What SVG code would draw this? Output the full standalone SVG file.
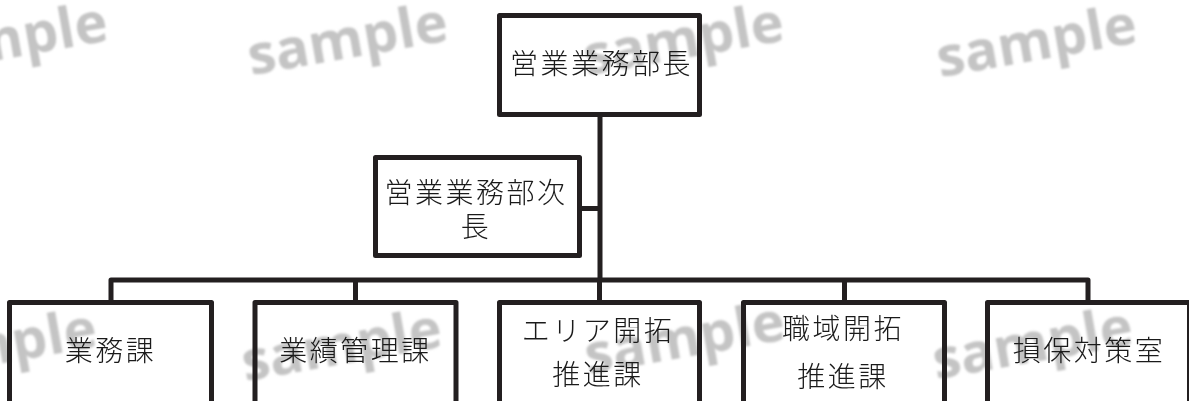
<svg xmlns="http://www.w3.org/2000/svg" width="1189" height="401" viewBox="0 0 1189 401">
  <defs>
    <filter id="soft" x="-10%" y="-30%" width="120%" height="160%">
      <feGaussianBlur stdDeviation="0.9"/>
    </filter>
  </defs>
  <style>
    .wm { font-family: "Open Sans", "DejaVu Sans", sans-serif; font-weight: bold; font-size: 56px; fill: #c4c4c4; text-anchor: middle; }
    .box { fill: none; stroke: #231f20; stroke-width: 5; stroke-linejoin: round; }
    .lbl { font-family: "Noto Sans CJK JP", sans-serif; font-weight: 300; font-size: 28px; letter-spacing: 2.5px; fill: #1a1a1a; text-anchor: middle; }
    .conn { fill: none; stroke: #231f20; stroke-width: 5; stroke-linejoin: round; }
  </style>
  <rect x="0" y="0" width="1189" height="401" fill="#ffffff"/>

  <g id="watermarks" filter="url(#soft)">
    <text class="wm" transform="translate(8,43) rotate(-10)" y="15">sample</text>
    <text class="wm" transform="translate(348,43) rotate(-10)" y="15">sample</text>
    <text class="wm" transform="translate(684,43) rotate(-10)" y="15">sample</text>
    <text class="wm" transform="translate(1037,45) rotate(-10)" y="15">sample</text>
    <text class="wm" transform="translate(-3,349) rotate(-10)" y="15">sample</text>
    <text class="wm" transform="translate(342,349) rotate(-10)" y="15">sample</text>
    <text class="wm" transform="translate(685,342) rotate(-10)" y="15">sample</text>
    <text class="wm" transform="translate(1033,347) rotate(-10)" y="15">sample</text>
  </g>

  <g id="connectors">
    <path class="conn" d="M600,116 V280"/>
    <path class="conn" d="M581,208.5 H600"/>
    <path class="conn" d="M111,303 V280 H1088 V303"/>
    <path class="conn" d="M355.5,280 V303"/>
    <path class="conn" d="M599.5,280 V303"/>
    <path class="conn" d="M844.5,280 V303"/>
  </g>

  <g id="node-bucho">
    <rect class="box" x="499.5" y="15.5" width="200" height="99"/>
    <text class="lbl" x="601.5" y="73.5">営業業務部長</text>
  </g>

  <g id="node-jicho">
    <rect class="box" x="375.5" y="157.5" width="204" height="98"/>
    <text class="lbl" x="476" y="202.5">営業業務部次</text>
    <text class="lbl" x="476" y="237">長</text>
  </g>

  <g id="node-gyomuka">
    <rect class="box" x="9.5" y="302.5" width="202" height="120"/>
    <text class="lbl" x="110.5" y="361">業務課</text>
  </g>

  <g id="node-gyoseki">
    <rect class="box" x="255" y="302.5" width="201" height="120"/>
    <text class="lbl" x="355.5" y="361">業績管理課</text>
  </g>

  <g id="node-area">
    <rect class="box" x="499.5" y="302.5" width="200" height="120"/>
    <text class="lbl" x="598" y="340.5">エリア開拓</text>
    <text class="lbl" x="598" y="385">推進課</text>
  </g>

  <g id="node-shokuiki">
    <rect class="box" x="743.5" y="302.5" width="201" height="120"/>
    <text class="lbl" x="843" y="338.5">職域開拓</text>
    <text class="lbl" x="843" y="386.5">推進課</text>
  </g>

  <g id="node-sonpo">
    <rect class="box" x="987.5" y="302.5" width="202" height="120"/>
    <text class="lbl" x="1089" y="361">損保対策室</text>
  </g>
</svg>
